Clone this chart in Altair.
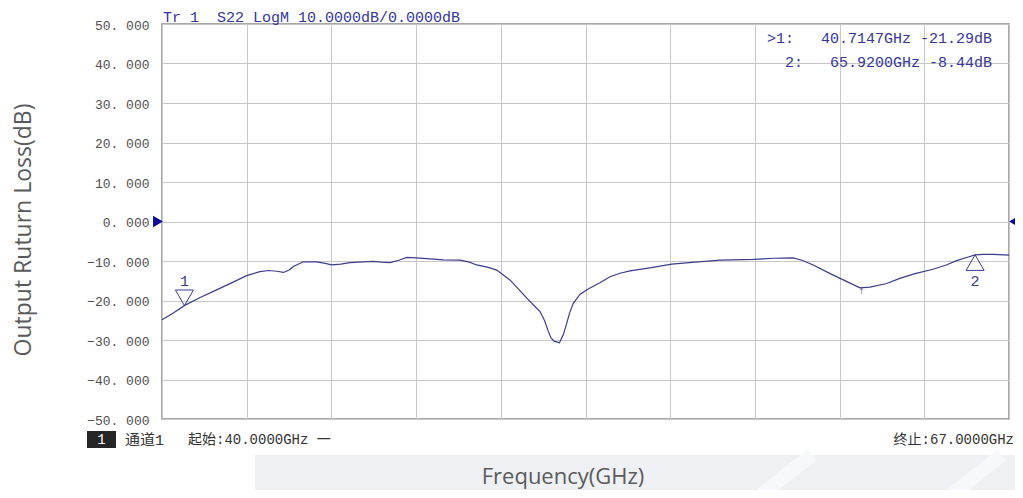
import altair as alt
import pandas as pd

# ---- data ----
freq_ghz = [40.00, 40.35, 40.71, 41.20, 41.74, 42.20, 42.70, 43.12, 43.40, 43.66,
            43.87, 44.05, 44.19, 44.50, 44.93, 45.20, 45.41, 45.70, 45.99, 46.40,
            46.74, 47.00, 47.27, 47.55, 47.80, 48.10, 48.44, 48.97, 49.50, 49.80,
            50.03, 50.40, 50.67, 51.09, 51.35, 51.63, 51.85, 52.05, 52.20, 52.30,
            52.40, 52.50, 52.67, 52.80, 52.90, 53.00, 53.11, 53.33, 53.60, 53.96,
            54.28, 54.60, 54.92, 55.60, 56.25, 57.00, 57.79, 58.85, 59.50, 60.12,
            60.40, 60.76, 61.30, 61.80, 62.25, 62.57, 63.10, 63.52, 64.00, 64.58,
            65.00, 65.33, 65.70, 65.92, 66.18, 66.50, 67.00]
s22_db = [-24.9, -23.2, -21.3, -19.3, -17.3, -15.6, -13.7, -12.7, -12.4, -12.6,
          -12.9, -12.3, -11.4, -10.2, -10.2, -10.6, -11.0, -10.8, -10.4, -10.2,
          -10.1, -10.3, -10.4, -9.8, -9.1, -9.2, -9.4, -9.7, -9.8, -10.3,
          -11.0, -11.6, -12.3, -14.8, -17.0, -19.4, -21.2, -22.8, -25.2, -27.5,
          -29.5, -30.3, -30.7, -28.5, -25.8, -23.0, -20.7, -18.4, -17.0, -15.5,
          -14.0, -13.1, -12.5, -11.7, -10.8, -10.3, -9.8, -9.6, -9.3, -9.2,
          -9.8, -11.0, -13.2, -15.1, -16.8, -16.6, -15.7, -14.4, -13.2, -12.1,
          -11.0, -9.9, -9.0, -8.44, -8.3, -8.3, -8.5]

marker_ids = ["1", "2"]
marker_freq = [40.7147, 65.92]
marker_db = [-21.29, -8.44]

arrow_freq = [62.3]
arrow_db = [-16.8]

ref_level = [0.0]
x_start, x_stop = 40.0, 67.0
y_ticks = [-50, -40, -30, -20, -10, 0, 10, 20, 30, 40, 50]
x_grid = [40 + 2.7 * i for i in range(11)]

x_title = "Frequency(GHz)"
y_title = "Output Ruturn Loss(dB)"
header_text = "Tr 1\u00a0\u00a0S22 LogM 10.0000dB/0.0000dB"
readout_1 = ">1:\u00a0\u00a0\u00a040.7147GHz -21.29dB"
readout_2 = "2:\u00a0\u00a0\u00a065.9200GHz -8.44dB"
bottom_left = "通道1"
start_text = "起始:40.0000GHz 一"
stop_text = "终止:67.0000GHz"

# ---- styling ----
TRACE = "#3c3c8e"
BLUE_TXT = "#3535a5"
MONO = "'Liberation Mono', 'Noto Sans CJK SC'"
SANS = "'Open Sans', 'Noto Sans'"
W, H = 847, 395

df = pd.DataFrame({"f": freq_ghz, "db": s22_db})
m1 = pd.DataFrame({"id": [marker_ids[0]], "f": [marker_freq[0]], "db": [marker_db[0]]})
m2 = pd.DataFrame({"id": [marker_ids[1]], "f": [marker_freq[1]], "db": [marker_db[1]]})

xs = alt.Scale(domain=[x_start, x_stop], nice=False, zero=False)
ys = alt.Scale(domain=[-50, 50], nice=False, zero=False)

x_axis = alt.Axis(values=x_grid, grid=True, labels=False, ticks=False, domain=False,
                  title=None)
y_axis = alt.Axis(
    values=y_ticks, grid=True, ticks=False, tickSize=0, domain=False,
    labelOverlap=False, labelBound=False, labelFlush=False,
    labelExpr="replace(format(datum.value, '.3f'), '.', '. ')",
    labelFont=MONO, labelFontSize=13, labelColor="#505050", labelPadding=13,
    labelOffset=1, title=None)

xf = alt.X("f:Q", scale=xs, axis=x_axis)
yf = alt.Y("db:Q", scale=ys, axis=y_axis)

empty = pd.DataFrame({"k": [0]})

# decorative background bands
band = alt.Chart(empty).mark_rect(color="#eef0f4").encode(
    x=alt.value(93), x2=alt.value(853), y=alt.value(431), y2=alt.value(470))
stripe1 = alt.Chart(empty).mark_rule(color="#f7f8fa", strokeWidth=14).encode(
    x=alt.value(650), x2=alt.value(600), y=alt.value(431), y2=alt.value(470))
stripe2 = alt.Chart(empty).mark_rule(color="#f7f8fa", strokeWidth=14).encode(
    x=alt.value(840), x2=alt.value(790), y=alt.value(431), y2=alt.value(470))
topband = alt.Chart(empty).mark_rect(color="#eef0f4").encode(
    x=alt.value(463), x2=alt.value(853), y=alt.value(-24), y2=alt.value(-22))

trace = alt.Chart(df).mark_line(color=TRACE, strokeWidth=1.2).encode(x=xf, y=yf)

mpt1 = alt.Chart(m1).mark_point(
    shape="triangle-down", size=324, filled=False, color=TRACE, strokeWidth=1,
    opacity=1, yOffset=-7.8).encode(x=xf, y=yf)
mpt2 = alt.Chart(m2).mark_point(
    shape="triangle-up", size=324, filled=False, color=TRACE, strokeWidth=1,
    opacity=1, yOffset=7.8).encode(x=xf, y=yf)
mlab1 = alt.Chart(m1).mark_text(
    font=MONO, fontSize=15, color=TRACE, dy=-25).encode(x=xf, y=yf, text="id:N")
mlab2 = alt.Chart(m2).mark_text(
    font=MONO, fontSize=15, color=TRACE, dy=26).encode(x=xf, y=yf, text="id:N")

arrow = alt.Chart(pd.DataFrame({"f": arrow_freq, "db": arrow_db})).mark_text(
    text="↑", fontSize=11, color=TRACE, baseline="top", dy=-3).encode(x=xf, y=yf)

ref_l = alt.Chart(pd.DataFrame({"f": [x_start], "db": ref_level})).mark_point(
    shape="triangle-right", size=130, filled=True, color="#0a0a9a", opacity=1,
    xOffset=-4).encode(x=xf, y=yf)
ref_r = alt.Chart(pd.DataFrame({"f": [x_stop], "db": ref_level})).mark_point(
    shape="triangle-left", size=130, filled=True, color="#0a0a9a", opacity=1,
    xOffset=5).encode(x=xf, y=yf)

header = alt.Chart(empty).mark_text(
    text=header_text, font=MONO, fontSize=15, color=BLUE_TXT, align="left",
    baseline="middle").encode(x=alt.value(1), y=alt.value(-7))
read1 = alt.Chart(empty).mark_text(
    text=readout_1, font=MONO, fontSize=15, color=BLUE_TXT, align="right",
    baseline="middle").encode(x=alt.value(830), y=alt.value(13.5))
read2 = alt.Chart(empty).mark_text(
    text=readout_2, font=MONO, fontSize=15, color=BLUE_TXT, align="right",
    baseline="middle").encode(x=alt.value(830), y=alt.value(37.5))

box = alt.Chart(empty).mark_rect(color="#262626").encode(
    x=alt.value(-75), x2=alt.value(-46), y=alt.value(407), y2=alt.value(424))
box_txt = alt.Chart(empty).mark_text(
    text="1", font=MONO, fontSize=14, color="white", baseline="middle").encode(
    x=alt.value(-60.5), y=alt.value(415.5))
ch_txt = alt.Chart(empty).mark_text(
    text=bottom_left, font=MONO, fontSize=15, color="#333333", align="left",
    baseline="middle").encode(x=alt.value(-37), y=alt.value(416))
start_txt = alt.Chart(empty).mark_text(
    text=start_text, font=MONO, fontSize=14, color="#333333", align="left",
    baseline="middle").encode(x=alt.value(26), y=alt.value(416))
stop_txt = alt.Chart(empty).mark_text(
    text=stop_text, font=MONO, fontSize=14, color="#333333", align="right",
    baseline="middle").encode(x=alt.value(852), y=alt.value(416))

xt = alt.Chart(empty).mark_text(
    text=x_title, font=SANS, fontSize=22, color="#5a5a5a", align="center",
    baseline="middle").encode(x=alt.value(401), y=alt.value(453))
yt = alt.Chart(empty).mark_text(
    text=y_title, font=SANS, fontSize=23, color="#5a5a5a", align="center",
    baseline="middle", angle=270).encode(x=alt.value(-138), y=alt.value(206))

chart = alt.layer(
    band, stripe1, stripe2, topband, trace, mpt1, mpt2, mlab1, mlab2, arrow,
    ref_l, ref_r, header, read1, read2, box, box_txt, ch_txt, start_txt, stop_txt,
    xt, yt
).properties(
    width=W, height=H,
    autosize=alt.AutoSizeParams(type="none"),
    padding={"left": 154, "top": 16, "right": 6, "bottom": 71},
    background="white",
).configure_view(stroke="#8c8c8c", strokeWidth=1.5).configure_axis(
    gridColor="#c8c8c8", gridWidth=1, gridOpacity=1, labelOverlap=False)

chart.save("out.html", embed_options={"renderer": "svg", "actions": False})
